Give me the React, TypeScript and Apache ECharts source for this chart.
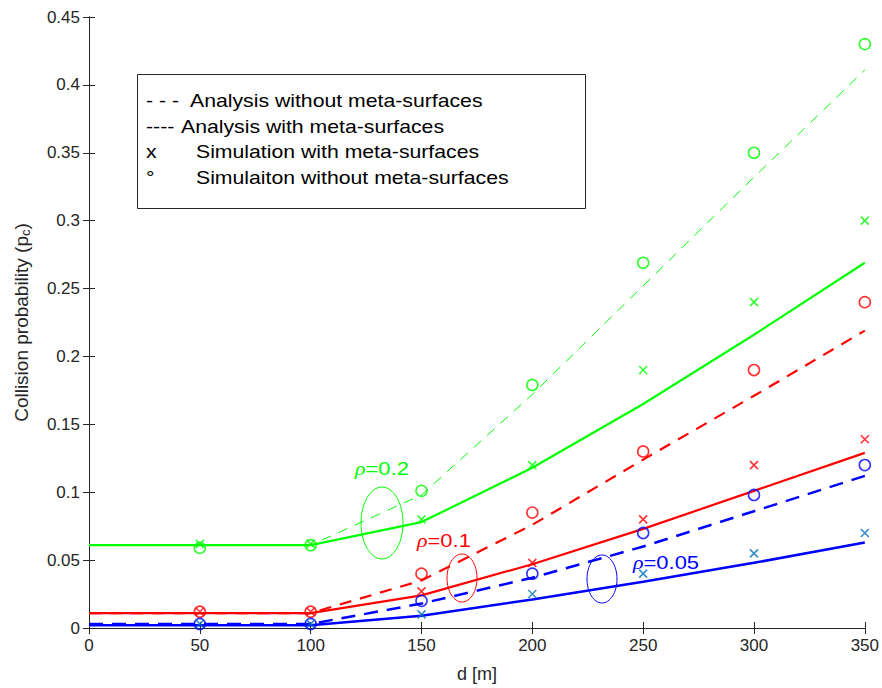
import React, { useEffect, useRef } from "react";
import * as echarts from "echarts";

const distances = [0, 50, 100, 150, 200, 250, 300, 350];
const simDistances = [50, 100, 150, 200, 250, 300, 350];

// analysis curves
const greenWith = [0.061, 0.061, 0.061, 0.078, 0.118, 0.165, 0.216, 0.269];
const greenWithout = [0.061, 0.061, 0.061, 0.098, 0.172, 0.252, 0.332, 0.411];
const redWith = [0.011, 0.011, 0.011, 0.024, 0.047, 0.073, 0.101, 0.129];
const redWithout = [0.011, 0.011, 0.011, 0.035, 0.076, 0.124, 0.171, 0.219];
const blueWith = [0.002, 0.002, 0.002, 0.009, 0.021, 0.034, 0.048, 0.063];
const blueWithout = [0.003, 0.003, 0.003, 0.018, 0.037, 0.06, 0.086, 0.112];

// simulation points
const greenSimWithout = [0.059, 0.061, 0.101, 0.179, 0.269, 0.35, 0.43];
const redSimWithout = [0.012, 0.012, 0.04, 0.085, 0.13, 0.19, 0.24];
const blueSimWithout = [0.003, 0.003, 0.02, 0.04, 0.07, 0.098, 0.12];
const greenSimWith = [0.062, 0.062, 0.08, 0.12, 0.19, 0.24, 0.3];
const redSimWith = [0.012, 0.012, 0.027, 0.048, 0.08, 0.12, 0.139];
const blueSimWith = [0.003, 0.003, 0.01, 0.025, 0.04, 0.055, 0.07];

const legendPrefixes = ["- - -", "----", "x", "\u00b0"];
const legendLabels = [
  "Analysis without meta-surfaces",
  "Analysis with meta-surfaces",
  "Simulation with meta-surfaces",
  "Simulaiton without meta-surfaces",
];

const GREEN = "#00ff00";
const RED = "#ff0000";
const BLUE = "#0000ff";
const MBLUE = "#0072bd";
const AXIS = "#262626";
const FONT = "Liberation Sans, Arial, sans-serif";

const pair = (xs: number[], ys: number[]) => xs.map((x, i) => [x, ys[i]]);

const lineSeries = (data: number[], color: string, width: number, type: any) => ({
  type: "line",
  data: pair(distances, data),
  showSymbol: false,
  symbol: "none",
  lineStyle: { color, width, type },
  z: 2,
});

const circleSeries = (data: number[], color: string) => ({
  type: "scatter",
  data: pair(simDistances, data),
  symbol: "circle",
  symbolSize: 11,
  itemStyle: { color: "transparent", borderColor: color, borderWidth: 1.6 },
  z: 3,
});

const crossSeries = (data: number[], color: string) => ({
  type: "scatter",
  data: pair(simDistances, data),
  symbol: "path://M0,0L10,10M10,0L0,10",
  symbolSize: 8,
  itemStyle: { color: "transparent", borderColor: color, borderWidth: 1.6 },
  z: 4,
});

const rhoText = (label: string, color: string, x: number, y: number) => ({
  type: "text",
  x,
  y,
  scaleX: 1.22,
  style: {
    text: "{r|\u03c1}" + label,
    fill: color,
    fontSize: 18,
    fontFamily: FONT,
    verticalAlign: "middle",
    rich: { r: { fontStyle: "italic", fill: color, fontSize: 18, fontFamily: "Liberation Serif, serif" } },
  },
  z: 11,
});

export default function App() {
  const ref = useRef<HTMLDivElement>(null);
  useEffect(() => {
    document.body.style.margin = "0";
    if (!ref.current) return;
    const chart = echarts.init(ref.current, undefined, { renderer: "svg" });
    const axisCommon = {
      type: "value",
      axisLine: { show: true, lineStyle: { color: AXIS, width: 1 } },
      axisTick: { show: true, inside: true, length: 6, lineStyle: { color: AXIS } },
      splitLine: { show: false },
    };
    chart.setOption({
      animation: false,
      backgroundColor: "#ffffff",
      grid: { left: 89, right: 16, top: 17, bottom: 57, containLabel: false },
      xAxis: [
        {
          ...axisCommon,
          position: "bottom",
          min: 0,
          max: 350,
          interval: 50,
          name: "d [m]",
          nameLocation: "middle",
          nameGap: 37,
          nameTextStyle: { color: AXIS, fontSize: 18, fontFamily: FONT },
          axisLabel: { color: AXIS, fontSize: 17, fontFamily: FONT, margin: 9 },
        },
        {
          ...axisCommon,
          position: "top",
          min: 0,
          max: 350,
          interval: 50,
          axisLabel: { show: false },
        },
      ],
      yAxis: [
        {
          ...axisCommon,
          position: "left",
          min: 0,
          max: 0.45,
          interval: 0.05,
          name: "Collision probability (p{sub|c})",
          nameLocation: "middle",
          nameGap: 57,
          nameTextStyle: {
            color: AXIS,
            fontSize: 19,
            fontFamily: FONT,
            rich: { sub: { fontSize: 13, color: AXIS, fontFamily: FONT, verticalAlign: "bottom", padding: [9, 0, 0, 0] } },
          },
          axisLabel: { color: AXIS, fontSize: 17, fontFamily: FONT, margin: 9 },
        },
        {
          ...axisCommon,
          position: "right",
          min: 0,
          max: 0.45,
          interval: 0.05,
          axisLabel: { show: false },
        },
      ],
      series: [
        lineSeries(greenWithout, GREEN, 1, [10, 8]),
        lineSeries(greenWith, GREEN, 2.2, "solid"),
        lineSeries(redWithout, RED, 2.2, [12, 9]),
        lineSeries(redWith, RED, 2.2, "solid"),
        lineSeries(blueWithout, BLUE, 2.5, [14, 9]),
        lineSeries(blueWith, BLUE, 2.5, "solid"),
        circleSeries(greenSimWithout, GREEN),
        circleSeries(redSimWithout, RED),
        circleSeries(blueSimWithout, BLUE),
        crossSeries(greenSimWith, GREEN),
        crossSeries(redSimWith, RED),
        crossSeries(blueSimWith, MBLUE),
      ],
      graphic: [
        {
          type: "rect",
          shape: { x: 137.5, y: 74.5, width: 448, height: 134 },
          style: { fill: "#ffffff", stroke: AXIS, lineWidth: 1 },
          z: 10,
        },
        ...legendPrefixes.map((t, i) => ({
          type: "text",
          x: 146,
          y: 101 + i * 25.5,
          scaleX: 1.18,
          style: { text: t, fill: "#000000", fontSize: 18, fontFamily: FONT, verticalAlign: "middle" },
          z: 11,
        })),
        ...legendLabels.map((t, i) => ({
          type: "text",
          x: i < 2 ? (i === 0 ? 190 : 181) : 196,
          y: 101 + i * 25.5,
          scaleX: 1.18,
          style: { text: t, fill: "#000000", fontSize: 18, fontFamily: FONT, verticalAlign: "middle" },
          z: 11,
        })),
        rhoText("=0.2", GREEN, 355, 469),
        rhoText("=0.1", RED, 417, 541),
        rhoText("=0.05", BLUE, 633, 563),
        {
          type: "ellipse",
          shape: { cx: 382, cy: 523, rx: 21, ry: 36 },
          style: { fill: "none", stroke: GREEN, lineWidth: 1 },
          z: 11,
        },
        {
          type: "ellipse",
          shape: { cx: 462, cy: 578, rx: 15, ry: 24 },
          style: { fill: "none", stroke: RED, lineWidth: 1 },
          z: 11,
        },
        {
          type: "ellipse",
          shape: { cx: 602, cy: 579, rx: 15, ry: 24 },
          style: { fill: "none", stroke: BLUE, lineWidth: 1 },
          z: 11,
        },
      ],
    });
    return () => chart.dispose();
  }, []);
  return <div ref={ref} style={{ width: 882, height: 688 }} />;
}
